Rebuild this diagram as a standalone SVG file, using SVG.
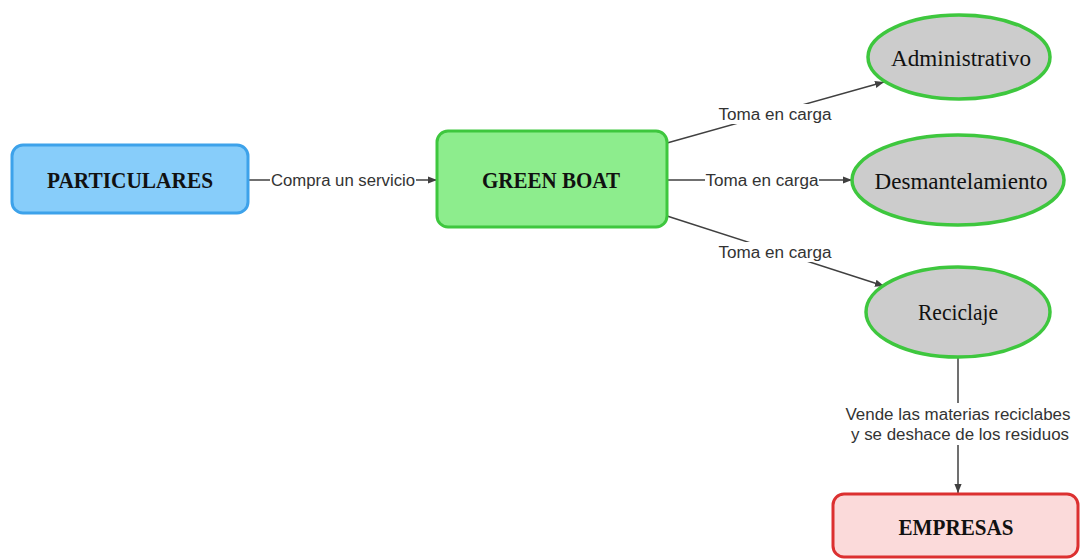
<svg xmlns="http://www.w3.org/2000/svg" width="1080" height="559" viewBox="0 0 1080 559">
<defs>
<marker id="arr" viewBox="0 0 10 10" refX="10" refY="5" markerWidth="9" markerHeight="9" markerUnits="userSpaceOnUse" orient="auto">
<path d="M0,1 L10,5 L0,9 Z" fill="#404040"/>
</marker>
</defs>
<style>
.node-t{font-family:"Liberation Serif",serif;font-size:23px;fill:#111;text-anchor:middle;dominant-baseline:central}
.bold{font-weight:bold}
.lbl{font-family:"Liberation Sans",Arial,sans-serif;font-size:16px;fill:#333;text-anchor:middle;dominant-baseline:central}
.edge{stroke:#404040;stroke-width:1.5;fill:none}
.lblbg{fill:#fff}
.ell{fill:#cccccc;stroke:#3ec73e;stroke-width:3.5}
</style>
<rect width="1080" height="559" fill="#fff"/>
<g id="connectors">
<line class="edge" x1="248" y1="180" x2="437" y2="180" marker-end="url(#arr)"/>
<rect class="lblbg" x="270" y="171" width="146" height="18"/>
<text class="lbl" x="343" y="180" textLength="144" lengthAdjust="spacingAndGlyphs">Compra un servicio</text>
<line class="edge" x1="667" y1="143" x2="884" y2="82" marker-end="url(#arr)"/>
<rect class="lblbg" x="718" y="104" width="115" height="20"/>
<text class="lbl" x="775" y="114" textLength="113" lengthAdjust="spacingAndGlyphs">Toma en carga</text>
<line class="edge" x1="667" y1="180" x2="852" y2="180" marker-end="url(#arr)"/>
<rect class="lblbg" x="705" y="171" width="114" height="19"/>
<text class="lbl" x="762" y="180" textLength="113" lengthAdjust="spacingAndGlyphs">Toma en carga</text>
<line class="edge" x1="667" y1="216" x2="884" y2="286" marker-end="url(#arr)"/>
<rect class="lblbg" x="718" y="242" width="115" height="20"/>
<text class="lbl" x="775" y="252" textLength="113" lengthAdjust="spacingAndGlyphs">Toma en carga</text>
<line class="edge" x1="958" y1="357" x2="958" y2="493" marker-end="url(#arr)"/>
<rect class="lblbg" x="844" y="403" width="229" height="42"/>
<text class="lbl" x="958" y="414" textLength="225" lengthAdjust="spacingAndGlyphs">Vende las materias reciclabes</text>
<text class="lbl" x="960" y="434" textLength="218" lengthAdjust="spacingAndGlyphs">y se deshace de los residuos</text>
</g>
<g id="particulares">
<rect x="12" y="145" width="236" height="68" rx="11" fill="#87cdfa" stroke="#3da2ea" stroke-width="3"/>
<text class="node-t bold" x="130" y="180" textLength="166" lengthAdjust="spacingAndGlyphs">PARTICULARES</text>
</g>
<g id="green-boat">
<rect x="437" y="131" width="230" height="96" rx="11" fill="#8ded8d" stroke="#3ec73e" stroke-width="3"/>
<text class="node-t bold" x="551" y="180" textLength="138" lengthAdjust="spacingAndGlyphs">GREEN BOAT</text>
</g>
<g id="administrativo">
<ellipse class="ell" cx="959" cy="57" rx="91" ry="42"/>
<text class="node-t" x="961" y="58" textLength="140" lengthAdjust="spacingAndGlyphs">Administrativo</text>
</g>
<g id="desmantelamiento">
<ellipse class="ell" cx="958" cy="180" rx="106" ry="45"/>
<text class="node-t" x="961" y="181" textLength="173" lengthAdjust="spacingAndGlyphs">Desmantelamiento</text>
</g>
<g id="reciclaje">
<ellipse class="ell" cx="958" cy="312" rx="92" ry="45"/>
<text class="node-t" x="958" y="312" textLength="80" lengthAdjust="spacingAndGlyphs">Reciclaje</text>
</g>
<g id="empresas">
<rect x="833" y="494" width="245" height="63" rx="11" fill="#fbdada" stroke="#dc3030" stroke-width="3"/>
<text class="node-t bold" x="956" y="527" textLength="115" lengthAdjust="spacingAndGlyphs">EMPRESAS</text>
</g>
</svg>
